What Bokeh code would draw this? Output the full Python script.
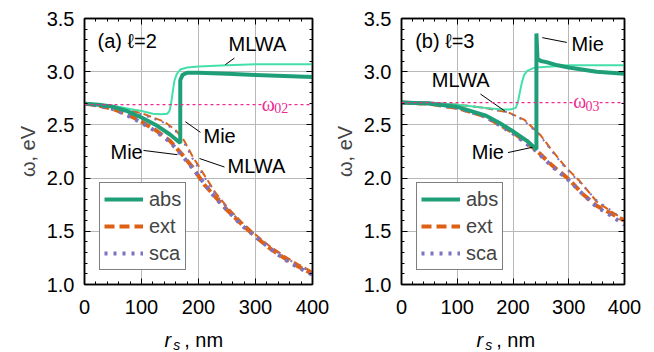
from bokeh.plotting import figure
from bokeh.models import (Range1d, FixedTicker, LinearAxis, Label, Legend, LegendItem,
                          PrintfTickFormatter, Span, CustomJSTickFormatter)
from bokeh.core.properties import value
from bokeh.layouts import row, column
from bokeh.embed import file_html
from bokeh.resources import INLINE

# ---------------- data ----------------
x_ticks = [0, 100, 200, 300, 400]
x_minor = list(range(0, 401, 20))
y_ticks = [1.0, 1.5, 2.0, 2.5, 3.0, 3.5]
y_minor = [round(1.0 + 0.1 * i, 2) for i in range(26)]

# panel (a) l=2
a_mie_abs_r = [0, 25, 50, 75, 100, 125, 150, 168, 168, 172, 180, 200, 250, 300, 350, 400]
a_mie_abs_w = [2.70, 2.69, 2.67, 2.63, 2.57, 2.50, 2.41, 2.33, 2.92, 2.97, 2.99, 2.99, 2.98, 2.97, 2.96, 2.95]
a_mie_ext_r = [0, 25, 50, 75, 100, 125, 150, 170, 190, 210, 230, 250, 275, 300, 325, 350, 375, 400]
a_mie_ext_w = [2.70, 2.68, 2.65, 2.60, 2.53, 2.45, 2.35, 2.23, 2.10, 1.94, 1.82, 1.70, 1.57, 1.45, 1.34, 1.25, 1.17, 1.10]
a_mie_sca_w = [2.70, 2.68, 2.65, 2.59, 2.52, 2.44, 2.34, 2.22, 2.09, 1.95, 1.81, 1.70, 1.56, 1.45, 1.34, 1.24, 1.16, 1.09]
a_mlwa_ext_r = [0, 50, 100, 140, 160, 175, 190, 210, 230, 250, 275, 300, 325, 350, 375, 400]
a_mlwa_ext_w = [2.70, 2.67, 2.61, 2.53, 2.45, 2.35, 2.20, 2.03, 1.86, 1.73, 1.59, 1.47, 1.36, 1.27, 1.19, 1.12]
a_mlwa_sca_w = [2.70, 2.67, 2.60, 2.52, 2.44, 2.33, 2.18, 2.01, 1.85, 1.72, 1.58, 1.46, 1.35, 1.26, 1.18, 1.11]
a_mlwa_abs_r = [0, 50, 80, 100, 120, 135, 145, 149, 152, 155, 158, 162, 168, 180, 200, 250, 300, 400]
a_mlwa_abs_w = [2.70, 2.68, 2.65, 2.63, 2.605, 2.60, 2.605, 2.63, 2.70, 2.82, 2.92, 2.98, 3.02, 3.04, 3.05, 3.06, 3.07, 3.07]
a_omega0 = 2.69

# panel (b) l=3
b_mie_abs_r = [0, 50, 100, 150, 175, 200, 225, 242, 242, 244, 250, 260, 280, 300, 350, 400]
b_mie_abs_w = [2.71, 2.70, 2.67, 2.59, 2.52, 2.44, 2.35, 2.27, 3.36, 3.12, 3.10, 3.09, 3.06, 3.04, 3.00, 2.98]
b_mie_ext_r = [0, 50, 100, 150, 200, 240, 270, 300, 325, 350, 375, 400]
b_mie_ext_w = [2.71, 2.70, 2.66, 2.58, 2.43, 2.27, 2.12, 1.99, 1.85, 1.74, 1.67, 1.60]
b_mie_sca_w = [2.71, 2.70, 2.66, 2.58, 2.42, 2.26, 2.11, 1.98, 1.85, 1.73, 1.65, 1.56]
b_mlwa_ext_r = [0, 50, 100, 150, 190, 220, 250, 270, 295, 320, 350, 375, 400]
b_mlwa_ext_w = [2.71, 2.71, 2.69, 2.66, 2.62, 2.55, 2.40, 2.26, 2.10, 1.97, 1.78, 1.69, 1.61]
b_mlwa_sca_w = [2.71, 2.71, 2.69, 2.66, 2.62, 2.54, 2.39, 2.25, 2.09, 1.96, 1.79, 1.70, 1.60]
b_mlwa_abs_r = [0, 50, 100, 150, 180, 195, 205, 209, 212, 216, 220, 226, 240, 270, 300, 400]
b_mlwa_abs_w = [2.71, 2.71, 2.69, 2.66, 2.645, 2.645, 2.66, 2.72, 2.80, 2.90, 2.97, 3.01, 3.04, 3.05, 3.06, 3.06]
b_omega0 = 2.71

# x-axis title pieces
xlab_parts = ["r", "s", ", nm"]

# ---------------- style ----------------
FONT = "Liberation Sans"
C_ABS = "#1f9f78"
C_MLWA = "#45e0aa"
C_EXT = "#dd6115"
C_SCA = "#7b73c4"
C_W0 = "#ee2a92"


def make_panel(width, left_border, right_border):
    p = figure(width=width, height=322, x_range=Range1d(0, 400), y_range=Range1d(1.0, 3.5),
               output_backend="svg", toolbar_location=None, title=None,
               min_border_left=left_border, min_border_right=right_border,
               min_border_top=18, min_border_bottom=38)
    p.outline_line_color = "black"
    p.outline_line_width = 1.5
    xt = FixedTicker(ticks=x_ticks, minor_ticks=x_minor)
    yt = FixedTicker(ticks=y_ticks, minor_ticks=y_minor)
    p.xaxis.ticker = xt
    p.yaxis.ticker = yt
    p.xgrid.ticker = xt
    p.ygrid.ticker = yt
    p.yaxis.formatter = PrintfTickFormatter(format="%.1f")
    for ax in (p.xaxis, p.yaxis):
        ax.major_tick_in = 6
        ax.major_tick_out = 0
        ax.minor_tick_in = 3
        ax.minor_tick_out = 0
        ax.axis_line_color = "black"
        ax.axis_line_width = 1.5
        ax.major_tick_line_color = "black"
        ax.minor_tick_line_color = "black"
        ax.major_label_text_font = FONT
        ax.major_label_text_font_size = "20px"
        ax.major_label_text_color = "black"
    p.xaxis.major_label_standoff = 15
    p.yaxis.major_label_standoff = 10
    p.yaxis.axis_label = "ω, eV"
    p.yaxis.axis_label_text_font = FONT
    p.yaxis.axis_label_text_font_size = "20px"
    p.yaxis.axis_label_text_font_style = "normal"
    p.yaxis.axis_label_standoff = 5
    for loc, tk in (("above", xt), ("right", yt)):
        ax = LinearAxis(ticker=tk, formatter=CustomJSTickFormatter(code="return ''"),
                        major_tick_in=6, major_tick_out=0,
                        minor_tick_in=3, minor_tick_out=0, axis_line_width=1.5, major_label_standoff=0)
        p.add_layout(ax, loc)
    p.grid.grid_line_color = "#b8b8b8"
    p.grid.grid_line_width = 1
    return p


def make_xlabel(width, left_border, right_border):
    # strip under each panel holding the x-axis title; y in pixels from the strip bottom
    q = figure(width=width, height=30, x_range=Range1d(0, 400), y_range=Range1d(0, 30),
               output_backend="svg", toolbar_location=None, x_axis_type=None, y_axis_type=None,
               title=None, min_border_left=left_border, min_border_right=right_border,
               min_border_top=0, min_border_bottom=0)
    q.outline_line_color = None
    q.grid.visible = False
    q.text(x=[140.4], y=[13], text=[xlab_parts[0]], text_font=value(FONT), text_font_size="20px",
           text_font_style="italic", text_baseline="alphabetic", text_color="black")
    q.text(x=[155.5], y=[7.5], text=[xlab_parts[1]], text_font=value(FONT), text_font_size="14px",
           text_font_style="italic", text_baseline="alphabetic", text_color="black")
    q.text(x=[175.0], y=[13], text=[xlab_parts[2]], text_font=value(FONT), text_font_size="20px",
           text_baseline="alphabetic", text_color="black")
    return q


def add_curves(p, mlwa_abs_r, mlwa_abs_w, mlwa_ext_r, mlwa_ext_w, mlwa_sca_w,
               mie_ext_r, mie_ext_w, mie_sca_w, mie_abs_r, mie_abs_w, w0):
    p.add_layout(Span(location=w0, dimension="width", line_color=C_W0, line_width=1.2,
                      line_dash="3 3"))
    p.line(mlwa_ext_r, mlwa_ext_w, line_color=C_EXT, line_width=2, line_dash="8 4")
    p.line(mlwa_ext_r, mlwa_sca_w, line_color=C_SCA, line_width=2, line_dash="2 6")
    p.line(mlwa_abs_r, mlwa_abs_w, line_color=C_MLWA, line_width=2)
    r_ext = p.line(mie_ext_r, mie_ext_w, line_color=C_EXT, line_width=4, line_dash="10 5")
    r_sca = p.line(mie_ext_r, mie_sca_w, line_color=C_SCA, line_width=4, line_dash="3 6")
    r_abs = p.line(mie_abs_r, mie_abs_w, line_color=C_ABS, line_width=4)
    leg = Legend(items=[LegendItem(label="abs", renderers=[r_abs]),
                        LegendItem(label="ext", renderers=[r_ext]),
                        LegendItem(label="sca", renderers=[r_sca])],
                 location=(15, 14), label_text_font=FONT, label_text_font_size="20px",
                 glyph_width=39, glyph_height=24, label_height=24, label_standoff=6,
                 spacing=3, padding=4, margin=0, border_line_color="black", border_line_width=1,
                 background_fill_color="white", background_fill_alpha=1.0)
    p.add_layout(leg)


def txt(p, x, y, s, size="20px", color="black", font=FONT, bg=None, baseline="middle"):
    p.add_layout(Label(x=x, y=y, text=s, text_font=font, text_font_size=size, text_color=color,
                       text_baseline=baseline, background_fill_color=bg))


def leader(p, xs, ys):
    p.line(xs, ys, line_color="black", line_width=1)


# ---------------- panel (a) ----------------
p1 = make_panel(330, 84, 18)
add_curves(p1, a_mlwa_abs_r, a_mlwa_abs_w, a_mlwa_ext_r, a_mlwa_ext_w, a_mlwa_sca_w,
           a_mie_ext_r, a_mie_ext_w, a_mie_sca_w, a_mie_abs_r, a_mie_abs_w, a_omega0)
txt(p1, 22.8, 3.29, "(a) ℓ=2")
txt(p1, 252.6, 3.26, "MLWA")
leader(p1, [247, 263], [3.066, 3.128])
txt(p1, 208.8, 2.40, "Mie")
leader(p1, [177, 203.5], [2.53, 2.43])
txt(p1, 45.6, 2.25, "Mie")
leader(p1, [103.5, 163], [2.26, 2.22])
txt(p1, 250.9, 2.11, "MLWA")
leader(p1, [201.8, 245.6], [2.184, 2.104])
txt(p1, 311.0, 2.70, "ω", size="20px", color=C_W0, font="Liberation Serif", bg="white")
txt(p1, 333.0, 2.655, "02", size="14px", color=C_W0, font="Liberation Serif", bg="white")

# ---------------- panel (b) ----------------
p2 = make_panel(324, 66, 30)
add_curves(p2, b_mlwa_abs_r, b_mlwa_abs_w, b_mlwa_ext_r, b_mlwa_ext_w, b_mlwa_sca_w,
           b_mie_ext_r, b_mie_ext_w, b_mie_sca_w, b_mie_abs_r, b_mie_abs_w, b_omega0)
txt(p2, 24.6, 3.29, "(b) ℓ=3")
txt(p2, 305.0, 3.26, "Mie")
leader(p2, [252.6, 296.5], [3.32, 3.275])
txt(p2, 54.4, 2.925, "MLWA")
leader(p2, [141.6, 185.4], [2.79, 2.63])
txt(p2, 126.0, 2.25, "Mie")
leader(p2, [191, 235], [2.24, 2.29])
txt(p2, 308.0, 2.72, "ω", size="20px", color=C_W0, font="Liberation Serif", bg="white")
txt(p2, 330.0, 2.675, "03", size="14px", color=C_W0, font="Liberation Serif", bg="white")

q1 = make_xlabel(330, 84, 18)
q2 = make_xlabel(324, 66, 30)

layout = column(row(p1, p2), row(q1, q2))
open("out.html", "w").write(file_html(layout, INLINE))
